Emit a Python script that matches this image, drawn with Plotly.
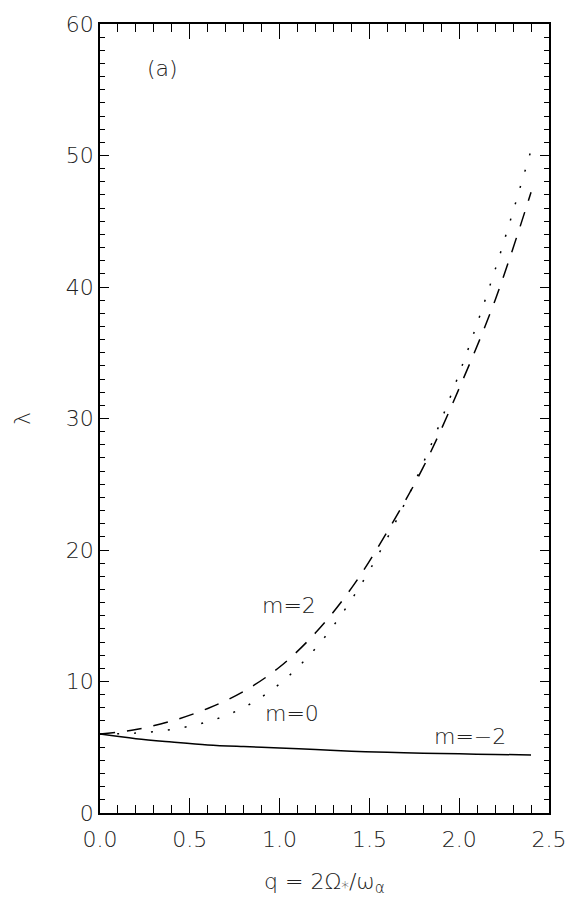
import plotly.graph_objects as go

# Data
q = [0.0, 0.2, 0.4, 0.6, 0.8, 1.0, 1.2, 1.4, 1.6, 1.8, 2.0, 2.2, 2.4]
lam_m2 = [6.0, 6.35, 7.0, 7.95, 9.25, 11.1, 13.7, 17.1, 21.4, 26.3, 32.3, 39.0, 47.2]
lam_m0 = [6.0, 6.08, 6.36, 6.94, 8.02, 9.82, 12.52, 16.22, 20.92, 26.62, 33.42, 41.32, 50.4]
lam_mm2 = [6.0, 5.65, 5.4, 5.18, 5.05, 4.95, 4.82, 4.7, 4.62, 4.55, 4.5, 4.45, 4.42]

x_ticks = [0.0, 0.5, 1.0, 1.5, 2.0, 2.5]
x_ticklabels = ["0.0", "0.5", "1.0", "1.5", "2.0", "2.5"]
y_ticks = [0, 10, 20, 30, 40, 50, 60]
y_ticklabels = ["0", "10", "20", "30", "40", "50", "60"]

FONT = dict(family="DejaVu Sans, Open Sans, sans-serif", size=22, color="#222222", weight=200)

fig = go.Figure()
fig.add_trace(go.Scatter(x=q, y=lam_mm2, mode="lines", line=dict(color="black", width=1.5, shape="spline"), name="m=-2"))
fig.add_trace(go.Scatter(x=q, y=lam_m2, mode="lines", line=dict(color="black", width=1.5, dash="15px,12px", shape="spline"), name="m=2"))
fig.add_trace(go.Scatter(x=q, y=lam_m0, mode="lines", line=dict(color="black", width=1.5, dash="2px,15px", shape="spline"), name="m=0"))

fig.add_annotation(x=0.35, y=56.6, text="(a)", showarrow=False, font=FONT)
fig.add_annotation(x=1.05, y=15.8, text="m=2", showarrow=False, font=FONT)
fig.add_annotation(x=1.07, y=7.6, text="m=0", showarrow=False, font=FONT)
fig.add_annotation(x=2.06, y=5.8, text="m=−2", showarrow=False, font=FONT)

fig.update_layout(
    width=579, height=902,
    margin=dict(l=100, r=26, t=13, b=89),
    paper_bgcolor="white", plot_bgcolor="white",
    showlegend=False,
    font=FONT,
)
fig.update_xaxes(
    range=[0, 2.5], tickvals=x_ticks, ticktext=x_ticklabels,
    showgrid=False, zeroline=False,
    showline=True, linecolor="black", linewidth=1.5, mirror="allticks",
    ticks="inside", ticklen=15, tickwidth=1.2, tickcolor="black",
    minor=dict(dtick=0.1, ticks="inside", ticklen=8, tickwidth=1.2, tickcolor="black", showgrid=False),
    tickfont=FONT, ticklabelstandoff=6,
    title=dict(text="q = 2Ω<sub>*</sub>/ω<sub>α</sub>", font=FONT, standoff=22),
)
fig.update_yaxes(
    range=[-0.0001, 60.0001], tickvals=y_ticks, ticktext=y_ticklabels,
    showgrid=False, zeroline=False,
    showline=True, linecolor="black", linewidth=1.5, mirror="allticks",
    ticks="inside", ticklen=9, tickwidth=1.2, tickcolor="black",
    minor=dict(dtick=1, ticks="inside", ticklen=5, tickwidth=1.2, tickcolor="black", showgrid=False),
    tickfont=FONT,
    title=dict(text="λ", font=FONT, standoff=29),
)

fig.write_html("out.html")
